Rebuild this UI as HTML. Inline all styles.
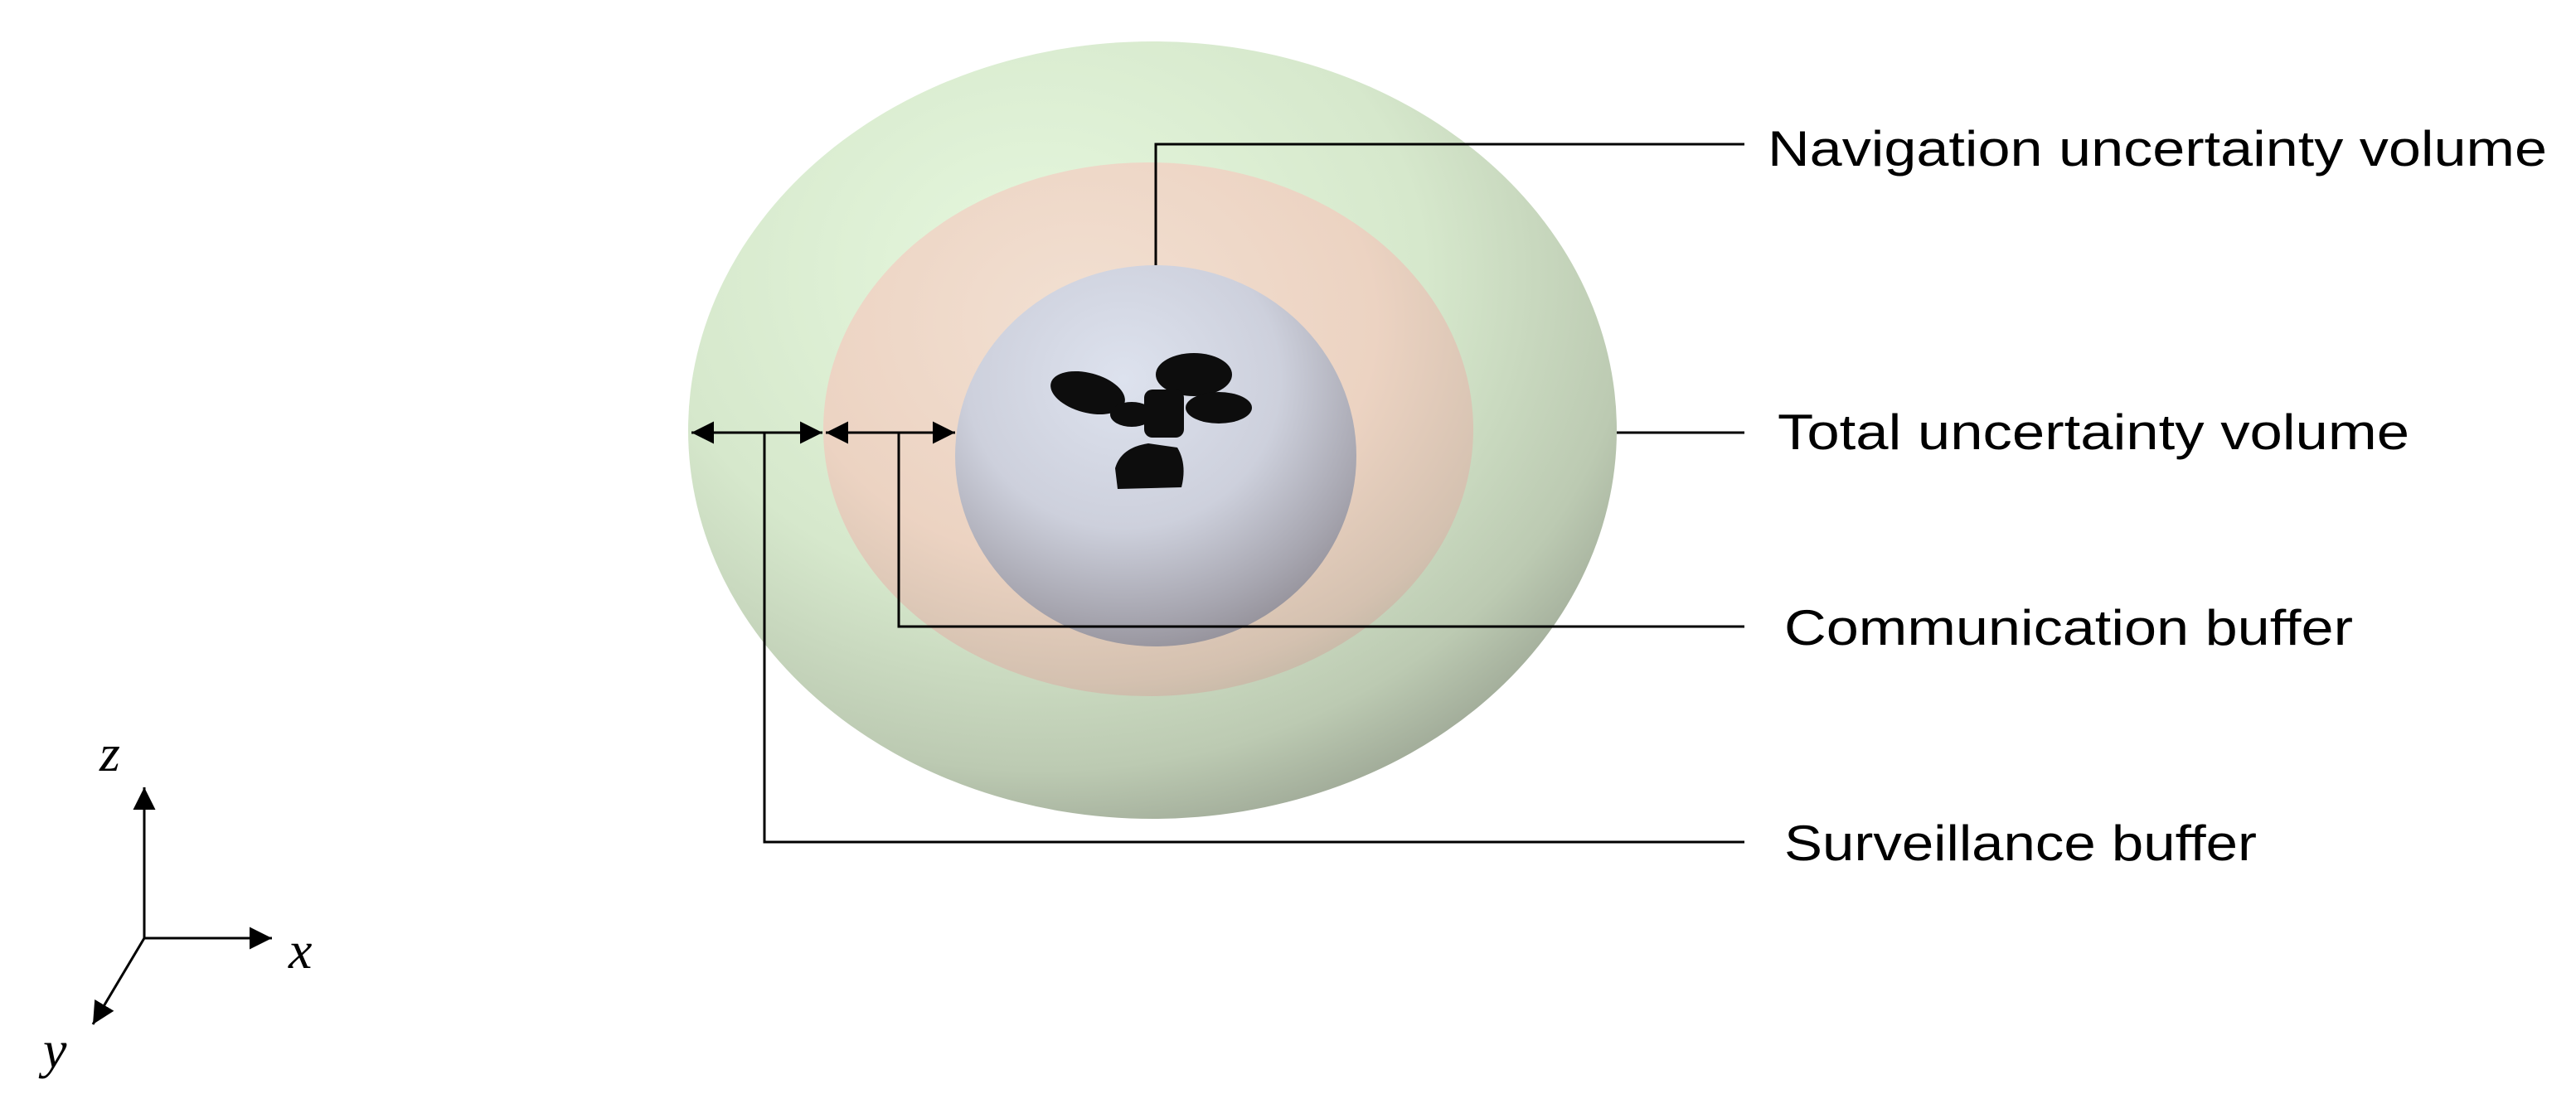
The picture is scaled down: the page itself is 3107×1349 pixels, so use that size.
<!DOCTYPE html>
<html><head><meta charset="utf-8"><style>html,body{margin:0;padding:0;background:#fff}svg{display:block}</style></head>
<body>
<svg width="3107" height="1349" viewBox="0 0 3107 1349" xmlns="http://www.w3.org/2000/svg">
<defs>
<radialGradient id="g1" cx="0.38" cy="0.3" r="0.75">
<stop offset="0" stop-color="#e6f8de"/><stop offset="0.55" stop-color="#d6e8cc"/><stop offset="0.85" stop-color="#bccab2"/><stop offset="1" stop-color="#9ea896"/></radialGradient>
<radialGradient id="g2" cx="0.4" cy="0.3" r="0.75">
<stop offset="0" stop-color="#f2e0d2"/><stop offset="0.6" stop-color="#ecd3c2"/><stop offset="0.9" stop-color="#d4c1b0"/><stop offset="1" stop-color="#c4b8a6"/></radialGradient>
<radialGradient id="g3" cx="0.42" cy="0.3" r="0.78">
<stop offset="0" stop-color="#dde2ee"/><stop offset="0.5" stop-color="#cdd0dc"/><stop offset="0.8" stop-color="#a7a6b0"/><stop offset="1" stop-color="#8c8890"/></radialGradient>
<marker id="ah" viewBox="0 0 10 10" refX="10" refY="5" markerWidth="9" markerHeight="9" orient="auto-start-reverse" markerUnits="strokeWidth"><path d="M0,0 L10,5 L0,10 z" fill="#000"/></marker>
</defs>
<ellipse cx="1390" cy="519" rx="560" ry="469" fill="url(#g1)"/>
<ellipse cx="1385" cy="518" rx="392" ry="322" fill="url(#g2)"/>
<ellipse cx="1394" cy="550" rx="242" ry="230" fill="url(#g3)"/>
<g fill="#0d0d0d">
<ellipse cx="1312" cy="474" rx="46" ry="24" transform="rotate(15 1312 474)"/>
<ellipse cx="1440" cy="452" rx="46" ry="26"/>
<ellipse cx="1470" cy="492" rx="40" ry="19"/>
<ellipse cx="1365" cy="500" rx="26" ry="15"/>
<rect x="1380" y="470" width="48" height="58" rx="10"/>
<path d="M1345,565 Q1352,540 1385,535 L1420,540 Q1432,560 1425,588 L1348,590 Z"/>
</g>
<g stroke="#000" stroke-width="3" fill="none">
<line x1="834" y1="522" x2="992" y2="522" marker-start="url(#ah)" marker-end="url(#ah)"/>
<line x1="996" y1="522" x2="1152" y2="522" marker-start="url(#ah)" marker-end="url(#ah)"/>
<polyline points="922,522 922,1016 2104,1016"/>
<polyline points="1084,522 1084,756 2104,756"/>
<polyline points="1394,320 1394,174 2104,174"/>
<line x1="1950" y1="522" x2="2104" y2="522"/>
<line x1="174" y1="1132" x2="174" y2="950" marker-end="url(#ah)"/>
<line x1="174" y1="1132" x2="328" y2="1132" marker-end="url(#ah)"/>
<line x1="174" y1="1132" x2="112" y2="1236" marker-end="url(#ah)"/>
</g>
<g font-family="'Liberation Sans', sans-serif" font-size="60" fill="#000">
<text x="2132" y="200" textLength="940" lengthAdjust="spacingAndGlyphs">Navigation uncertainty volume</text>
<text x="2144" y="542" textLength="762" lengthAdjust="spacingAndGlyphs">Total uncertainty volume</text>
<text x="2152" y="778" textLength="686" lengthAdjust="spacingAndGlyphs">Communication buffer</text>
<text x="2152" y="1038" textLength="570" lengthAdjust="spacingAndGlyphs">Surveillance buffer</text>
</g>
<g font-family="'Liberation Serif', serif" font-style="italic" font-size="64" fill="#000">
<text x="120" y="930">z</text>
<text x="348" y="1168">x</text>
<text x="52" y="1288">y</text>
</g>
</svg>
</body></html>
